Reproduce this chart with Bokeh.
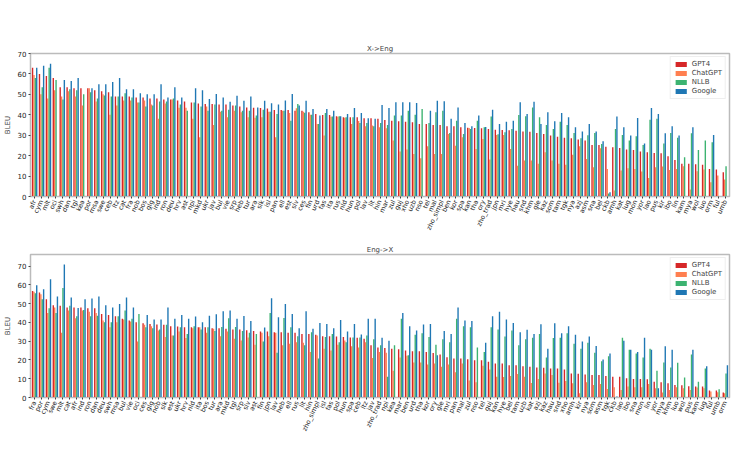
import math
from bokeh.plotting import figure
from bokeh.models import Range1d, FixedTicker
from bokeh.layouts import column
from bokeh.embed import file_html
from bokeh.resources import INLINE

# ---------------- X->Eng ----------------
langs_x2e = ["afr", "cym", "mlt", "oci", "swh", "dan", "tgl", "kea", "por", "msa", "swe", "ceb", "ltz", "cat", "fra", "nob", "bos", "glg", "ind", "ron", "deu", "hrv", "ast", "npi", "mkd",
             "ukr", "jav", "bul", "vie", "srp", "heb", "tur", "ara", "slk", "isl", "pan", "ell", "est", "slv", "ces", "fin", "urd", "fas", "ita", "rus", "nld", "hun", "pol", "lav", "lit",
             "hin", "mar", "zul", "guj", "xho", "uzb", "nso", "tel", "mal", "zho_simpl", "ben", "kor", "spa", "kan", "tha", "ory", "zho_trad", "jpn", "mri", "hye", "hau", "snd", "khm", "gle",
             "kaz", "som", "tam", "tgk", "nya", "azj", "asm", "sna", "bel", "ckb", "amh", "kat", "lug", "mon", "yor", "lao", "pus", "kir", "ibo", "lin", "kam", "mya", "wol", "luo", "orm", "ful", "umb"]
gpt4_x2e = [63, 60, 59, 58, 53.5, 53.5, 53, 53, 53, 52, 51.5, 51, 49, 49, 49, 48.5, 48.5, 48, 48, 47.5, 47.5, 47, 46.5, 46, 45.5,
            45.3, 45.3, 45, 45, 44.5, 44.1, 43.6, 43.5, 43.3, 43.1, 42.3, 42.3, 42.3, 42, 42, 41.2, 40.4, 39.9, 39.9, 39.3, 38.8, 38.8, 38.8, 38.3, 38.3,
            38, 37.5, 37.1, 36.8, 36.6, 36.3, 35.5, 35.5, 35, 35, 34.4, 34.4, 33.9, 33.6, 33.5, 33.4, 33, 32.7, 32.6, 32.4, 32.2, 31.8, 31.7, 31.1,
            30.6, 29.8, 29.2, 28.8, 28.5, 27.9, 27.4, 25.2, 25.2, 24.4, 24.1, 23.8, 23, 22.8, 22, 21.7, 21.3, 21.2, 19.7, 17.9, 16, 16, 15.8, 15.5, 13.5, 13.2, 11.9]
chatgpt_x2e = [59.5, 50, 48, 52, 49, 51.5, 49, 44.5, 53, 46.5, 50, 40, 44.5, 47, 47, 46, 47, 45, 38, 45.5, 47.5, 43.5, 43.5, 38, 29,
               44, 35, 41.5, 38.8, 42, 41.2, 38.8, 38.5, 38.8, 41.5, 29, 42, 40.9, 43.2, 41.5, 40, 35.5, 29.8, 39, 39, 38.5, 35.5, 37, 34.4, 34.7,
               33.9, 33.4, 27.4, 22, 23, 20.8, 18.7, 24.6, 20.8, 20.8, 30.6, 24.9, 29, 33.5, 23.3, 28.2, 18.1, 30.1, 30.1, 23.3, 15.1, 17.6, 17.6, 16,
               21.7, 17.6, 16, 15.5, 20.4, 24.6, 18.4, 14.3, 23.6, 13.5, 2.9, 12.7, 13.8, 13.5, 12.2, 9, 14.3, 14.7, 13, 13.5, 14.8, 3.4, 12.4, 13.2, 7, 10.3, 8.3]
nllb_x2e = [58, 53.5, 63, 57, 47.5, 52.5, 52, 50, 51, 48, 49.5, 49, 49, 50.5, 48.5, 46, 44, 44.5, 46.5, 46.5, 48, 45, 42, 46, 44,
            42, 45, 42, 42.5, 44.5, 42, 42, 39.6, 42.5, 41.5, 40.4, 42, 37.1, 45.3, 41, 40, 35.5, 40.9, 39.1, 39.3, 38.8, 38.8, 36, 36, 34.4,
            36, 35, 39.6, 39.6, 42, 40, 42.8, 36, 41.2, 42, 31.1, 37.1, 30.6, 33, 37.1, 33.9, 39.1, 30.5, 31.4, 33, 39.9, 39.3, 43.6, 38.8,
            35, 33, 36.6, 35, 31.1, 28.5, 30, 31.1, 25.7, 1.5, 33, 30.1, 27.4, 29.5, 25.2, 37.6, 38, 26, 31.1, 28.7, 19.2, 31, 22.8, 27.4, 26.5, 0, 14.8]
google_x2e = [63, 64, 65, 0, 57, 56.5, 58, 0, 53, 55, 55, 56, 58, 52.5, 52.5, 50.5, 50, 50, 55, 48.5, 53.5, 48.5, 0, 53, 52,
              47.7, 50.2, 48.5, 46.4, 49.3, 46.9, 49, 43.6, 46.9, 45.6, 45, 47, 50.2, 44.5, 46.9, 42.8, 39.6, 42.8, 42, 39.3, 40.4, 43.3, 40.9, 38.3, 38,
              44.8, 43.3, 46.1, 46.1, 46.1, 45.8, 0, 42, 46.9, 46.6, 38, 43.6, 36, 34.4, 39.6, 34, 42.5, 35.5, 36.6, 37.1, 46.1, 40.4, 46.4, 35.5,
              41.2, 36.8, 40.9, 38.8, 33.9, 31.8, 35.5, 31.8, 27, 2.1, 39.2, 33.9, 29.8, 38.4, 26, 43.3, 40.4, 31, 34.4, 29.8, 0, 33.9, 0, 0, 30.1, 0, 0]

# ---------------- Eng->X ----------------
langs_e2x = ["fra", "por", "cym", "swe", "mlt", "cat", "afr", "ind", "ron", "dan", "deu", "swh", "msa", "bul", "vie", "oci", "ces", "glg", "nob", "slk", "est", "ukr", "hrv", "nld",
             "ita", "bos", "tur", "ara", "mkd", "tgl", "srp", "slv", "ast", "fin", "jpn", "lav", "heb", "ell", "rus", "lit", "hin", "zho_simpl", "isl", "fas", "pol", "hun", "spa", "ceb", "ltz",
             "jav", "zho_trad", "npi", "kea", "mar", "ben", "urd", "tha", "kor", "ory", "gle", "mri", "pan", "mal", "zul", "nso", "tel", "guj", "kan", "hye", "bel", "tam", "uzb", "kat",
             "azj", "kaz", "hau", "snd", "xho", "amh", "kir", "nya", "som", "asm", "tgk", "ckb", "lao", "ibo", "sna", "mon", "lin", "yor", "mya", "khm", "luo", "wol", "pus", "kam", "lug", "ful", "umb", "orm"]
gpt4_e2x = [56.8, 55.9, 52.4, 49.2, 48.9, 48, 48, 48, 47.5, 47.5, 44.5, 44, 43.3, 41.9, 41, 40.1, 39.6, 39.2, 38.9, 38.7, 38, 37.8, 37.5, 37.5,
            37.5, 37.5, 36.9, 36.9, 36.6, 36.2, 36.2, 35.9, 35.5, 35.2, 35.2, 34.8, 34.8, 34.5, 34.5, 33.9, 33.9, 33.4, 32.7, 32.7, 32.5, 32.2, 32, 31.8, 31.3,
            27.8, 26.7, 26.4, 26, 25.7, 25.1, 24.6, 24.6, 24.3, 23.7, 22.9, 21.5, 20.8, 20.8, 20.4, 19.9, 19.9, 19, 18.1, 18.1, 17.2, 17.2, 16.7, 16.4,
            16, 15.8, 15.5, 15.5, 14.9, 12.8, 12.7, 12.3, 12, 12, 11.5, 11.1, 11.1, 10.2, 9.8, 9.8, 9.7, 8.4, 8.1, 7.6, 6.7, 6.5, 6, 5.8, 5.8, 3.7, 3.7, 2.6]
chatgpt_e2x = [56.3, 55, 45, 48, 34.5, 46.3, 42.2, 46.3, 45.7, 45, 41, 37.5, 40.1, 41.5, 40.5, 29.9, 38.7, 38, 35.7, 32.2, 33.1, 35.2, 31.7, 36.9,
               37.5, 34.5, 36.6, 32.7, 35.2, 31.3, 30.4, 32, 28.1, 34.5, 32.7, 34.5, 27.8, 28.7, 29.5, 29.2, 24.3, 33.1, 26, 25.1, 28.1, 30.4, 27.3, 26.6, 29.5,
               21.1, 24.3, 23.9, 14.2, 21.3, 22.2, 18.6, 18.6, 17.6, 18.1, 16.4, 17.6, 13.4, 18.1, 9, 8.1, 16.9, 14.9, 11.1, 10.9, 11.4, 12.5, 11.1, 7.7,
               9.8, 12.8, 12, 7.9, 8.8, 7.6, 2.3, 8.1, 6.7, 7.2, 4.5, 5.5, 4, 5.8, 5.5, 5.5, 7.2, 4.9, 2.6, 4, 5.5, 4.9, 4, 5.3, 4.9, 3.2, 2.8, 2.3]
nllb_e2x = [55.6, 52.4, 47.5, 45, 58.4, 48.9, 43.3, 46.6, 43.3, 43.6, 40.1, 40.1, 43.3, 46.3, 41.9, 44.5, 37.5, 36.9, 36.2, 38.7, 33.1, 37.5, 33.9, 38,
            36.2, 37.5, 35.5, 37.6, 42.2, 37.6, 35.5, 34.5, 33.9, 29.9, 45, 23.9, 42.4, 37.5, 32.7, 27.8, 34.8, 20.8, 32.2, 33.9, 29.5, 29.5, 32, 32, 33,
            31, 27.8, 11.1, 27.8, 41.9, 22.5, 33.4, 34.3, 32.2, 28.1, 31, 29.5, 41.9, 38, 37.5, 26.6, 24.3, 37.5, 36.2, 32.5, 35.7, 27.8, 31, 31.8,
            33.9, 21.3, 31.7, 31.8, 34.3, 28.7, 26, 29.2, 23.9, 19.3, 22, 0, 31.8, 25.5, 23.4, 21.3, 26, 14.2, 18.6, 16, 18.5, 10.7, 22.9, 8.4, 15.5, 0, 4.4, 12.8]
google_e2x = [59.8, 57.7, 63, 53.8, 70.9, 53.3, 47.7, 52.4, 52.8, 53.8, 49.2, 48, 49.8, 53.3, 48, 0, 44, 41.5, 41.5, 48, 41.9, 44, 41.9, 43.1,
              40.1, 43.6, 44.3, 45.9, 46.3, 41.9, 43.4, 40.8, 0, 37.3, 52.9, 42.7, 49.8, 44.5, 36.9, 45.9, 36.6, 39.7, 39.2, 36.9, 41.3, 35.2, 39.2, 33.6, 41.9,
              41.9, 31.8, 30.2, 0, 45, 38, 35.7, 38.9, 39.2, 22.5, 35.5, 33.9, 48, 41, 40.8, 0, 29.2, 43.3, 45.7, 41.5, 39.7, 34.8, 36.1, 33.9,
              39, 26, 39.6, 34.3, 38, 33.4, 29.9, 32.5, 27.4, 20.2, 23.5, 0.5, 30.2, 25.5, 24.3, 31.8, 25.5, 4.9, 27.3, 25.5, 0, 0, 25.5, 0, 16.7, 0, 0, 17.2]

series_names = ["GPT4", "ChatGPT", "NLLB", "Google"]
series_colors = ["#d62728", "#ff7f50", "#3cb371", "#1f77b4"]
FONT = "DejaVu Sans"


def make_panel(title, langs, series, ymax, height, top_border):
    n = len(langs)
    p = figure(width=731, height=height, output_backend="svg", toolbar_location=None,
               x_range=Range1d(-0.6, n - 0.4), y_range=Range1d(0, ymax),
               min_border_left=0, min_border_right=2, min_border_top=top_border, min_border_bottom=0)
    offsets = [-0.3, -0.1, 0.1, 0.3]
    for vals, name, col, off in zip(series, series_names, series_colors, offsets):
        xs = [i + off for i in range(n)]
        p.vbar(x=xs, top=vals, width=0.2, fill_color=col, line_color=None, legend_label=name)
    p.title.text = title
    p.title.align = "center"
    p.title.text_font = FONT
    p.title.text_font_size = "7px"
    p.title.text_font_style = "normal"
    p.title.standoff = 1
    p.xgrid.visible = False
    p.ygrid.visible = False
    p.outline_line_color = "#bbbbbb"
    p.outline_line_width = 1.5
    p.xaxis.ticker = FixedTicker(ticks=list(range(n)))
    p.xaxis.major_label_overrides = {i: lab for i, lab in enumerate(langs)}
    p.xaxis.major_label_orientation = math.radians(65)
    p.yaxis.ticker = FixedTicker(ticks=[0, 10, 20, 30, 40, 50, 60, 70])
    p.yaxis.axis_label = "BLEU"
    for ax in (p.xaxis, p.yaxis):
        ax.major_label_text_font = FONT
        ax.major_label_text_color = "#222222"
        ax.axis_label_text_font = FONT
        ax.axis_label_text_font_size = "7px"
        ax.axis_label_text_font_style = "normal"
        ax.axis_line_color = "#bbbbbb"
        ax.major_tick_line_color = "#444444"
        ax.major_tick_out = 2
        ax.major_tick_in = 0
        ax.minor_tick_line_color = None
        ax.major_label_standoff = 2
        ax.axis_label_standoff = 3
    p.xaxis.major_label_text_font_size = "6.5px"
    p.yaxis.major_label_text_font_size = "7px"
    p.legend.location = "top_right"
    p.legend.label_text_font = FONT
    p.legend.label_text_font_size = "7px"
    p.legend.label_height = 7
    p.legend.glyph_height = 6
    p.legend.glyph_width = 14
    p.legend.label_standoff = 4
    p.legend.spacing = 1
    p.legend.padding = 3
    p.legend.margin = 3
    p.legend.border_line_color = "#dddddd"
    p.legend.background_fill_alpha = 0.9
    return p


p1 = make_panel("X->Eng", langs_x2e, [gpt4_x2e, chatgpt_x2e, nllb_x2e, google_x2e], 70, 236, 53)
p2 = make_panel("Eng->X", langs_e2x, [gpt4_e2x, chatgpt_e2x, nllb_e2x, google_e2x], 76.2, 201, 18)

layout = column(p1, p2, spacing=0)
open("out.html", "w").write(file_html(layout, INLINE))
